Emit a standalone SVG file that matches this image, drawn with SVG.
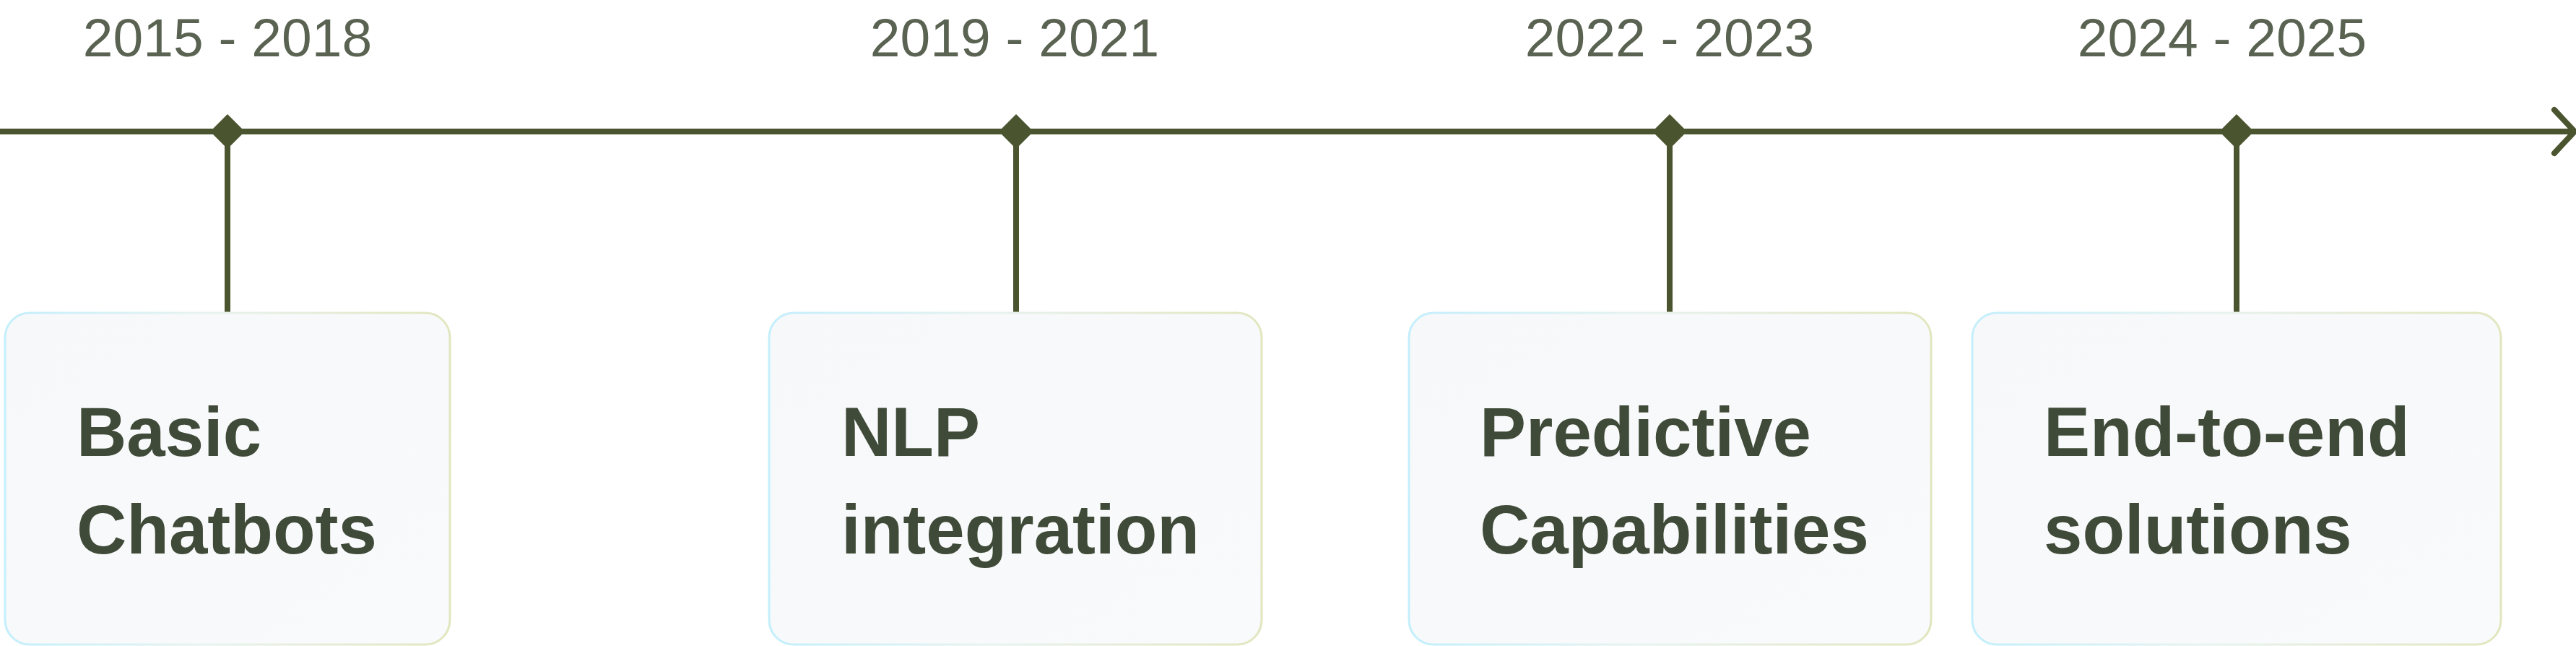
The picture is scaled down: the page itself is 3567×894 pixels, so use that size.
<svg xmlns="http://www.w3.org/2000/svg" width="3567" height="894" viewBox="0 0 3567 894">
  <defs>
    <linearGradient id="boxStroke" x1="0" y1="0" x2="1" y2="0">
      <stop offset="0" stop-color="#c3effc"/>
      <stop offset="0.45" stop-color="#e8f3f0"/>
      <stop offset="1" stop-color="#e2e6bf"/>
    </linearGradient>
    <linearGradient id="boxFill" x1="0" y1="0" x2="1" y2="1">
      <stop offset="0" stop-color="#f7f8fa"/>
      <stop offset="1" stop-color="#f9fafb"/>
    </linearGradient>
  </defs>
  <style>
    .axis { stroke: #4a542f; stroke-width: 8; fill: none; }
    .arrow { stroke: #4a542f; stroke-width: 8; fill: none; stroke-linecap: round; stroke-linejoin: round; }
    .stem { stroke: #4a542f; stroke-width: 8; }
    .diamond { fill: #4a542f; }
    .box { fill: url(#boxFill); stroke: url(#boxStroke); stroke-width: 3; }
    .year { font-family: "Liberation Sans", Arial, sans-serif; font-size: 75px; fill: #5a6352; text-anchor: middle; }
    .title { font-family: "Liberation Sans", Arial, sans-serif; font-size: 96px; font-weight: bold; fill: #3f4a38; }
  </style>
  <rect width="3567" height="894" fill="#ffffff"/>

  <g id="connectors">
    <line class="axis" x1="0" y1="182" x2="3563" y2="182"/>
    <polyline class="arrow" points="3537,152 3565,182 3537,212"/>
    <line class="stem" x1="315" y1="182" x2="315" y2="434"/>
    <line class="stem" x1="1407" y1="182" x2="1407" y2="434"/>
    <line class="stem" x1="2312" y1="182" x2="2312" y2="434"/>
    <line class="stem" x1="3097" y1="182" x2="3097" y2="434"/>
  </g>

  <g id="node-2015-2018">
    <text class="year" x="315" y="78">2015 - 2018</text>
    <polygon class="diamond" points="315,158 339,182 315,206 291,182"/>
    <rect class="box" x="7" y="433" width="616" height="459" rx="34" ry="34"/>
    <text class="title" x="106" y="631">Basic</text>
    <text class="title" x="106" y="766">Chatbots</text>
  </g>

  <g id="node-2019-2021">
    <text class="year" x="1405" y="78">2019 - 2021</text>
    <polygon class="diamond" points="1407,158 1431,182 1407,206 1383,182"/>
    <rect class="box" x="1065" y="433" width="682" height="459" rx="34" ry="34"/>
    <text class="title" x="1165" y="631">NLP</text>
    <text class="title" x="1165" y="766">integration</text>
  </g>

  <g id="node-2022-2023">
    <text class="year" x="2312" y="78">2022 - 2023</text>
    <polygon class="diamond" points="2312,158 2336,182 2312,206 2288,182"/>
    <rect class="box" x="1951" y="433" width="723" height="459" rx="34" ry="34"/>
    <text class="title" x="2049" y="631">Predictive</text>
    <text class="title" x="2049" y="766">Capabilities</text>
  </g>

  <g id="node-2024-2025">
    <text class="year" x="3077" y="78">2024 - 2025</text>
    <polygon class="diamond" points="3097,158 3121,182 3097,206 3073,182"/>
    <rect class="box" x="2731" y="433" width="732" height="459" rx="34" ry="34"/>
    <text class="title" x="2830" y="631">End-to-end</text>
    <text class="title" x="2830" y="766">solutions</text>
  </g>
</svg>
